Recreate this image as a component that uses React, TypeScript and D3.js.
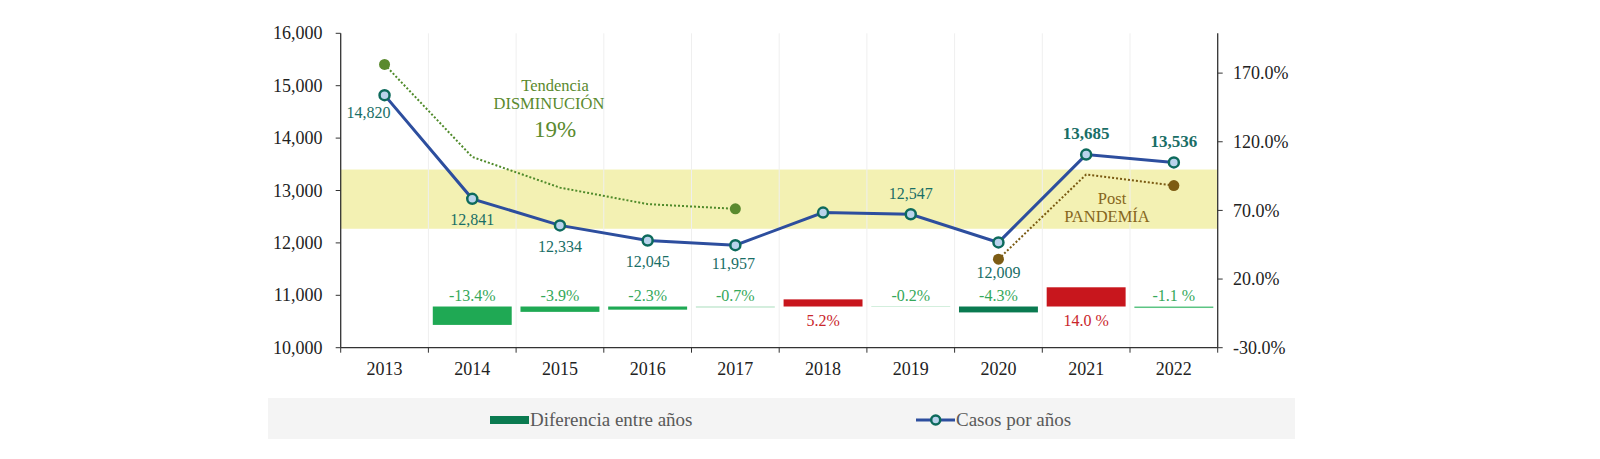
import React, { useEffect, useRef } from "react";
import * as d3 from "d3";

const years = ["2013", "2014", "2015", "2016", "2017", "2018", "2019", "2020", "2021", "2022"];
const casos = [14820, 12841, 12334, 12045, 11957, 12578, 12547, 12009, 13685, 13536];
const diffYears = ["2014", "2015", "2016", "2017", "2018", "2019", "2020", "2021", "2022"];
const diffPct = [-13.4, -3.9, -2.3, -0.7, 5.2, -0.2, -4.3, 14.0, -1.1];
const diffLabels = ["-13.4%", "-3.9%", "-2.3%", "-0.7%", "5.2%", "-0.2%", "-4.3%", "14.0 %", "-1.1 %"];
const diffColors = ["#1fa954", "#1fa954", "#1fa954", "#a6dcb9", "#c8161d", "#5cc483", "#0a7a50", "#c8161d", "#5cc483"];
const trendYears = ["2013", "2014", "2015", "2016", "2017"];
const trendValues = [15405, 13640, 13055, 12740, 12650];
const postYears = ["2020", "2021", "2022"];
const postValues = [11690, 13305, 13095];
const leftTicks = [10000, 11000, 12000, 13000, 14000, 15000, 16000];
const rightTicks = [-30, 20, 70, 120, 170];
const bandRange = [12270, 13400];
// label placement for line labels: [dx, dy(baseline offset), bold]
const casosLabelPos: [number, number, boolean][] = [
  [-16, 23, false], [0, 26, false], [0, 27, false], [0, 26, false], [-2, 24, false],
  [0, 0, false], [0, -15, false], [0, 36, false], [0, -16, true], [0, -15, true],
];
const showCasosLabel = [true, true, true, true, true, false, true, true, true, true];

export default function App() {
  const ref = useRef<SVGSVGElement>(null);
  useEffect(() => {
    const svg = d3.select(ref.current);
    svg.selectAll("*").remove();
    const font = "'Liberation Serif', serif";
    const L = 340.7, R = 1217.7, T = 33.3, B = 347.7;
    const x = d3.scaleBand<string>().domain(years).range([L, R]);
    const xb = d3.scaleBand<string>().domain(years).range([L, R]).paddingInner(0.1).paddingOuter(0.05);
    const yL = d3.scaleLinear().domain([10000, 16000]).range([B, T]);
    const yR = d3.scaleLinear().domain([-30, 199]).range([B, T]);
    const cx = (d: string) => (x(d) as number) + x.bandwidth() / 2;

    // highlight band
    svg.append("rect").attr("x", L).attr("width", R - L)
      .attr("y", yL(bandRange[1])).attr("height", yL(bandRange[0]) - yL(bandRange[1]))
      .attr("fill", "#f3f1b3");

    // vertical faint gridlines
    years.slice(1).forEach((yr) => {
      svg.append("line").attr("x1", x(yr) as number).attr("x2", x(yr) as number)
        .attr("y1", T).attr("y2", B).attr("stroke", "#efefef").attr("stroke-width", 1);
    });

    // bars
    const g = svg.append("g");
    g.selectAll("rect.bar").data(diffPct).join("rect")
      .attr("x", (_, i) => xb(diffYears[i]) as number)
      .attr("width", xb.bandwidth())
      .attr("y", (d) => Math.min(yR(0), yR(d)))
      .attr("height", (d) => Math.abs(yR(d) - yR(0)))
      .attr("fill", (_, i) => diffColors[i]);
    g.selectAll("text.bl").data(diffPct).join("text")
      .attr("x", (_, i) => cx(diffYears[i]))
      .attr("y", (d) => (d < 0 ? yR(0) - 6 : yR(0) + 19))
      .attr("text-anchor", "middle")
      .attr("font-family", font).attr("font-size", 16)
      .attr("fill", (d) => (d < 0 ? "#35a85a" : "#c9252b"))
      .text((_, i) => diffLabels[i]);

    // trend dotted lines
    const ln = d3.line<[number, number]>().x((d) => d[0]).y((d) => d[1]);
    svg.append("path")
      .attr("d", ln(trendYears.map((yr, i) => [cx(yr), yL(trendValues[i])])))
      .attr("fill", "none").attr("stroke", "#4f8a2a").attr("stroke-width", 2).attr("stroke-dasharray", "2,2");
    [0, trendYears.length - 1].forEach((i) => {
      svg.append("circle").attr("cx", cx(trendYears[i])).attr("cy", yL(trendValues[i])).attr("r", 5.5).attr("fill", "#5a8a2e");
    });
    svg.append("path")
      .attr("d", ln(postYears.map((yr, i) => [cx(yr), yL(postValues[i])])))
      .attr("fill", "none").attr("stroke", "#7a5a12").attr("stroke-width", 2).attr("stroke-dasharray", "2,2");
    [0, postYears.length - 1].forEach((i) => {
      svg.append("circle").attr("cx", cx(postYears[i])).attr("cy", yL(postValues[i])).attr("r", 5.5).attr("fill", "#7d5c14");
    });

    // main line
    svg.append("path")
      .attr("d", ln(years.map((yr, i) => [cx(yr), yL(casos[i])])))
      .attr("fill", "none").attr("stroke", "#2d4e9e").attr("stroke-width", 3);
    svg.selectAll("circle.pt").data(casos).join("circle")
      .attr("cx", (_, i) => cx(years[i])).attr("cy", (d) => yL(d)).attr("r", 5)
      .attr("fill", "#b9d3ec").attr("stroke", "#0d6a5c").attr("stroke-width", 2.5);
    casos.forEach((v, i) => {
      if (!showCasosLabel[i]) return;
      const [dx, dy, bold] = casosLabelPos[i];
      svg.append("text").attr("x", cx(years[i]) + dx).attr("y", yL(v) + dy)
        .attr("text-anchor", "middle").attr("font-family", font).attr("font-size", bold ? 17 : 16)
        .attr("font-weight", bold ? "bold" : "normal").attr("fill", "#196e66")
        .text(d3.format(",")(v));
    });

    // annotations
    const ann = (t: string, xx: number, yy: number, size: number, color: string) =>
      svg.append("text").attr("x", xx).attr("y", yy).attr("text-anchor", "middle")
        .attr("font-family", font).attr("font-size", size).attr("fill", color).text(t);
    ann("Tendencia", 555, 91, 16.5, "#5a8a2e");
    ann("DISMINUCIÓN", 549, 109, 16.5, "#5a8a2e");
    ann("19%", 555, 137, 23, "#5a8a2e");
    ann("Post", 1112, 204, 16.5, "#86661c");
    ann("PANDEMÍA", 1107, 222, 16.5, "#86661c");

    // axes
    const ax = svg.append("g").attr("font-family", font);
    const axisColor = "#333";
    ax.append("line").attr("x1", L).attr("x2", L).attr("y1", T).attr("y2", B).attr("stroke", axisColor).attr("stroke-width", 1.3);
    ax.append("line").attr("x1", R).attr("x2", R).attr("y1", T).attr("y2", B).attr("stroke", axisColor).attr("stroke-width", 1.3);
    ax.append("line").attr("x1", L).attr("x2", R).attr("y1", B).attr("y2", B).attr("stroke", axisColor).attr("stroke-width", 1.3);
    leftTicks.forEach((t) => {
      ax.append("line").attr("x1", L - 5).attr("x2", L).attr("y1", yL(t)).attr("y2", yL(t)).attr("stroke", axisColor);
      ax.append("text").attr("x", 322.5).attr("y", yL(t)).attr("dy", "0.34em").attr("text-anchor", "end")
        .attr("font-size", 18).attr("fill", "#222").text(d3.format(",")(t));
    });
    rightTicks.forEach((t) => {
      ax.append("line").attr("x1", R).attr("x2", R + 5).attr("y1", yR(t)).attr("y2", yR(t)).attr("stroke", axisColor);
      ax.append("text").attr("x", 1233).attr("y", yR(t)).attr("dy", "0.34em").attr("text-anchor", "start")
        .attr("font-size", 18).attr("fill", "#222").text(t.toFixed(1) + "%");
    });
    [...years.map((yr) => x(yr) as number), R].forEach((xx) => {
      ax.append("line").attr("x1", xx).attr("x2", xx).attr("y1", B).attr("y2", B + 5).attr("stroke", axisColor);
    });
    years.forEach((yr) => {
      ax.append("text").attr("x", cx(yr)).attr("y", 375).attr("text-anchor", "middle")
        .attr("font-size", 18).attr("fill", "#222").text(yr);
    });

    // legend
    const lg = svg.append("g").attr("font-family", font);
    lg.append("rect").attr("x", 268).attr("y", 398).attr("width", 1027).attr("height", 41).attr("fill", "#f4f4f4");
    lg.append("rect").attr("x", 490).attr("y", 416).attr("width", 39).attr("height", 8).attr("fill", "#0a7a50");
    lg.append("text").attr("x", 530).attr("y", 420).attr("dy", "0.34em").attr("font-size", 19).attr("fill", "#595959").text("Diferencia entre años");
    lg.append("line").attr("x1", 916).attr("x2", 955).attr("y1", 420).attr("y2", 420).attr("stroke", "#2d4e9e").attr("stroke-width", 3);
    lg.append("circle").attr("cx", 935.7).attr("cy", 420).attr("r", 4.5).attr("fill", "#b9d3ec").attr("stroke", "#0d6a5c").attr("stroke-width", 2.5);
    lg.append("text").attr("x", 956).attr("y", 420).attr("dy", "0.34em").attr("font-size", 19).attr("fill", "#595959").text("Casos por años");
  }, []);
  return (
    <div style={{ position: "absolute", left: 0, top: 0 }}>
      <svg ref={ref} width={1600} height={459} style={{ display: "block", background: "#fff" }} />
    </div>
  );
}
